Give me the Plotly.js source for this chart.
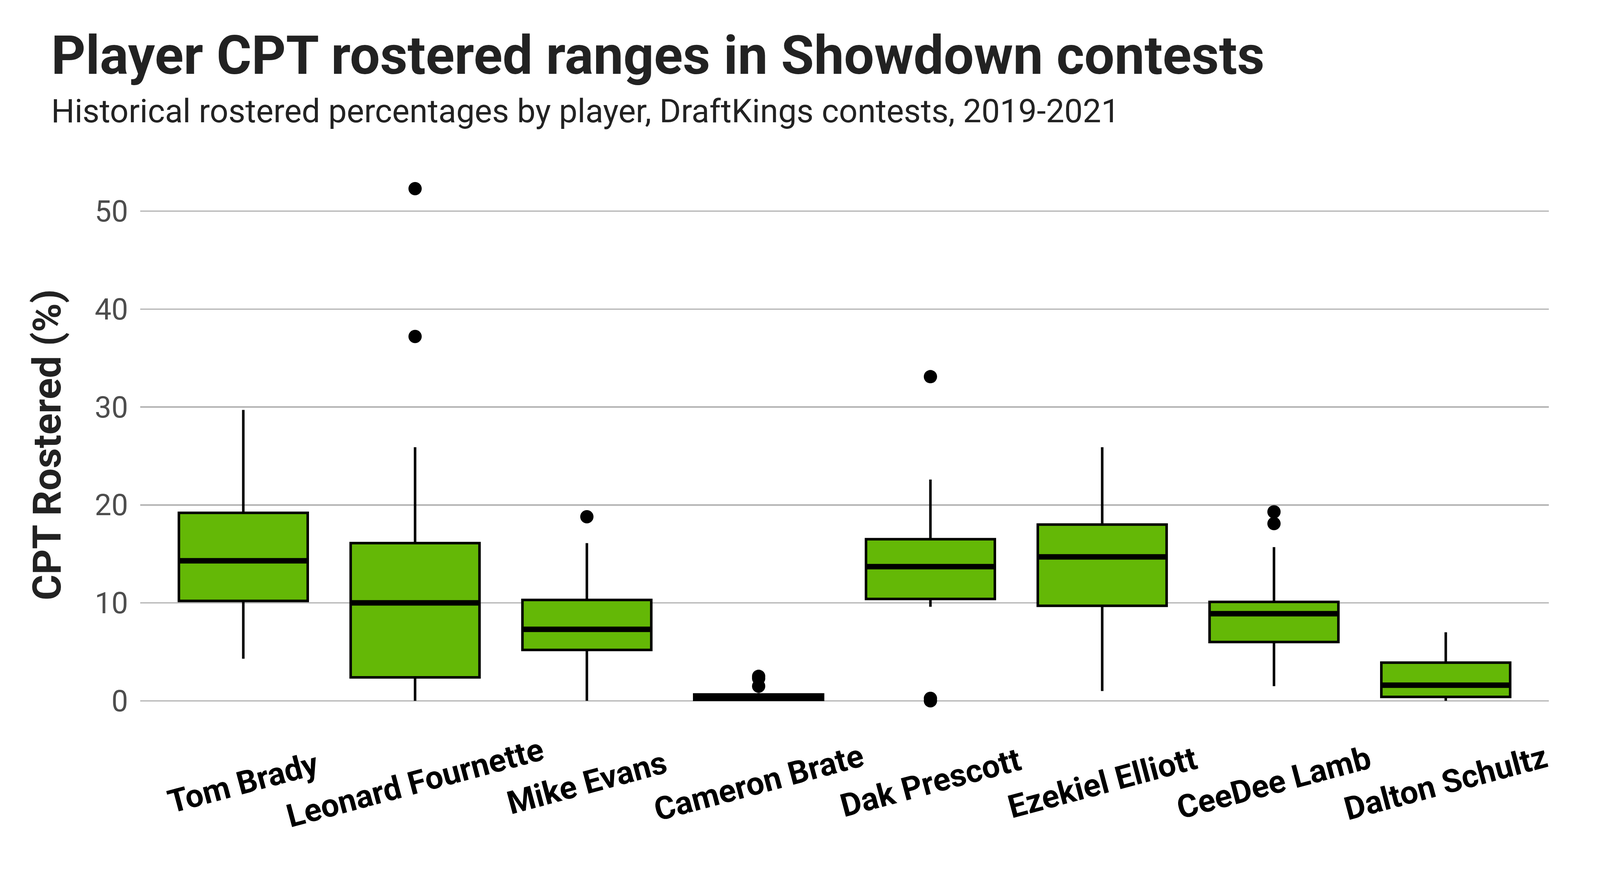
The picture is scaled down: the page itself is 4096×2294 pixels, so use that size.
<!DOCTYPE html>
<html>
<head>
<meta charset="utf-8">
<script src="https://cdn.plot.ly/plotly-3.0.1.min.js"></script>
<style>
html,body{margin:0;padding:0;background:#fff;}
#chart{width:4096px;height:2294px;}
</style>
</head>
<body>
<div id="chart"></div>
<script>
// ---- data ----
const players = ["Tom Brady","Leonard Fournette","Mike Evans","Cameron Brate","Dak Prescott","Ezekiel Elliott","CeeDee Lamb","Dalton Schultz"];
const lowerFence = [4.3, 0.0, 0.0, 0.0, 9.6, 1.0, 1.5, 0.0];
const q1Values   = [10.2, 2.4, 5.2, 0.1, 10.4, 9.7, 6.0, 0.4];
const medians    = [14.3, 10.0, 7.3, 0.35, 13.7, 14.7, 8.9, 1.6];
const q3Values   = [19.2, 16.1, 10.3, 0.65, 16.5, 18.0, 10.1, 3.9];
const upperFence = [29.7, 25.9, 16.1, 0.8, 22.6, 25.9, 15.7, 7.0];
const outlierPlayers = ["Leonard Fournette","Leonard Fournette","Mike Evans","Cameron Brate","Cameron Brate","Cameron Brate","Dak Prescott","Dak Prescott","Dak Prescott","CeeDee Lamb","CeeDee Lamb"];
const outlierValues  = [52.3, 37.2, 18.8, 2.5, 2.3, 1.5, 33.1, 0.25, 0.0, 19.3, 18.1];
const yTicks = [0, 10, 20, 30, 40, 50];

const titleText = "Player CPT rostered ranges in Showdown contests";
const subtitleText = "Historical rostered percentages by player, DraftKings contests, 2019-2021";
const yTitleText = "CPT Rostered (%)";

// ---- styling ----
const boxWidth = 0.75;
const green = "#64B806";
const FONT = "Roboto, 'Noto Sans', sans-serif";

const W = 4096, H = 2294;
const mL = 358.5, mR = W - 3965, mT = 417, mB = H - 1860.2;
const plotW = W - mL - mR, plotH = H - mT - mB;
const px2paperX = p => (p - mL) / plotW;
const px2paperY = p => (H - mB - p) / plotH;

const traces = [
  {
    type: "box",
    x: players,
    q1: q1Values,
    median: medians,
    q3: q3Values,
    lowerfence: lowerFence,
    upperfence: upperFence,
    boxpoints: false,
    width: boxWidth,
    whiskerwidth: 0,
    fillcolor: green,
    line: {color: "#000", width: 6.5},
    hoverinfo: "skip",
    showlegend: false
  },
  {
    type: "scatter",
    mode: "markers",
    x: outlierPlayers,
    y: outlierValues,
    marker: {color: "#000", size: 34},
    hoverinfo: "skip",
    showlegend: false,
    cliponaxis: false
  }
];

const shapes = medians.map((m, i) => ({
  type: "line", xref: "x", yref: "y",
  x0: i - boxWidth / 2, x1: i + boxWidth / 2, y0: m, y1: m,
  line: {color: "#000", width: 14}
}));

const annotations = [
  {text: "<b>" + titleText + "</b>", xref: "paper", yref: "paper",
   x: px2paperX(128), y: px2paperY(141.5), xanchor: "left", yanchor: "middle",
   showarrow: false, font: {family: FONT, size: 137, color: "#222"}},
  {text: subtitleText, xref: "paper", yref: "paper",
   x: px2paperX(128), y: px2paperY(284), xanchor: "left", yanchor: "middle",
   showarrow: false, font: {family: FONT, size: 84, color: "#222"}},
  {text: "<b>" + yTitleText + "</b>", xref: "paper", yref: "paper",
   x: px2paperX(120), y: 0.5, xanchor: "center", yanchor: "middle", textangle: -90,
   showarrow: false, font: {family: FONT, size: 101, color: "#222"}}
].concat(players.map(p => ({
  text: "<b>" + p + "</b>", xref: "x", yref: "paper", x: p, y: px2paperY(2004),
  xanchor: "center", yanchor: "middle", textangle: -15, showarrow: false,
  font: {family: FONT, size: 82, color: "#000"}
})));

const layout = {
  width: W, height: H,
  margin: {l: mL, r: mR, t: mT, b: mB, pad: 0},
  paper_bgcolor: "#fff", plot_bgcolor: "#fff",
  showlegend: false,
  font: {family: FONT},
  xaxis: {
    type: "category", categoryorder: "array", categoryarray: players,
    range: [-0.6, players.length - 0.4],
    showgrid: false, zeroline: false, showline: false, ticks: "",
    showticklabels: false
  },
  yaxis: {
    range: [-2.62, 54.93],
    tickvals: yTicks, ticktext: yTicks.map(String),
    showgrid: true, gridcolor: "#B3B3B3", gridwidth: 3.5,
    zeroline: false, showline: false, ticks: "",
    ticklabelstandoff: 30,
    tickfont: {family: FONT, size: 76, color: "#4D4D4D"}
  },
  shapes: shapes,
  annotations: annotations
};

Plotly.newPlot("chart", traces, layout, {displayModeBar: false, staticPlot: true});
</script>
</body>
</html>
